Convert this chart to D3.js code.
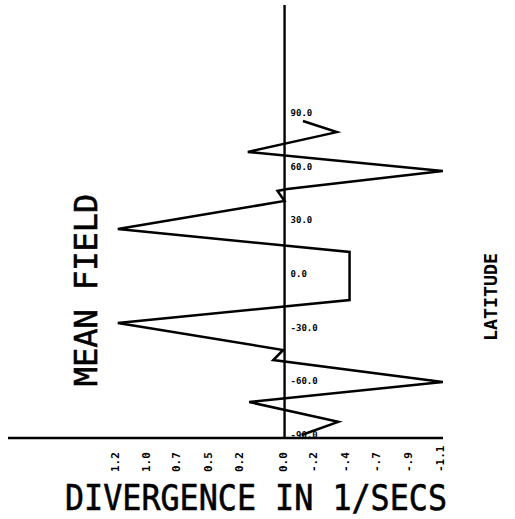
<!DOCTYPE html>
<html><head><meta charset="utf-8">
<script src="https://cdn.jsdelivr.net/npm/d3@7"></script>
<style>body{margin:0;background:#fff}svg{display:block}</style>
</head><body>
<script>
// Data
const latitudes  = [87.2, 81.0, 69.9, 59.3, 49.2, 48.1, 42.5, 26.8, 14.0, -12.9, -25.7, -40.8, -46.4, -58.7, -69.9, -81.0, -88.3];
const divergence = [-0.13, -0.37, 0.26, -1.12, -0.02, 0.05, 0.00, 1.18, -0.46, -0.46, 1.18, 0.01, 0.08, -1.12, 0.25, -0.38, -0.12];
const xTickValues = [1.2, 0.98, 0.77, 0.54, 0.32, 0.01, -0.2, -0.43, -0.65, -0.87, -1.1];
const xTickLabels = ["1.2","1.0","0.7","0.5","0.2","0.0","-.2","-.4","-.7","-.9","-1.1"];
const latTickValues = [90, 60, 30, 0, -30, -60, -90];
const latTickLabels = ["90.0","60.0","30.0","0.0","-30.0","-60.0","-90.0"];

const W = 515, H = 519;
const svg = d3.select("body").append("svg").attr("width", W).attr("height", H);

const x = d3.scaleLinear().domain([1.2, -1.1]).range([115, 440]);
const y = d3.scaleLinear().domain([-90, 90]).range([438, 116]);

const ink = "#000";
const mono = "'DejaVu Sans Mono', monospace";

// horizontal axis
svg.append("line").attr("x1", 8).attr("x2", 443).attr("y1", y(-90)).attr("y2", y(-90))
  .attr("stroke", ink).attr("stroke-width", 2.6);
// vertical axis at zero divergence
svg.append("line").attr("x1", x(0)).attr("x2", x(0)).attr("y1", 5).attr("y2", y(-90))
  .attr("stroke", ink).attr("stroke-width", 2.4);

// curve
const pts = latitudes.map((l, i) => [divergence[i], l]);
svg.append("path").datum(pts)
  .attr("d", d3.line().x(d => x(d[0])).y(d => y(d[1])))
  .attr("fill", "none").attr("stroke", ink).attr("stroke-width", 2.5)
  .attr("stroke-linejoin", "miter");

// latitude labels
svg.append("g").selectAll("text").data(latTickValues).join("text")
  .attr("x", x(0) + 6).attr("y", d => y(d))
  .attr("font-family", mono).attr("font-weight", "bold").attr("font-size", 9)
  .attr("fill", ink)
  .text((d, i) => latTickLabels[i]);

// divergence tick labels (rotated)
svg.append("g").selectAll("text").data(xTickValues).join("text")
  .attr("transform", d => `translate(${x(d) + 4},472) rotate(-90)`)
  .attr("font-family", mono).attr("font-weight", "bold").attr("font-size", 11)
  .attr("fill", ink)
  .text((d, i) => xTickLabels[i]);

// titles
svg.append("text").attr("transform", "translate(97,290) rotate(-90)")
  .attr("text-anchor", "middle").attr("font-family", mono).attr("font-size", 32)
  .attr("fill", ink).attr("stroke", ink).attr("stroke-width", 0.6)
  .text("MEAN FIELD");
svg.append("text").attr("x", 65).attr("y", 510)
  .attr("textLength", 382).attr("lengthAdjust", "spacingAndGlyphs")
  .attr("font-family", mono).attr("font-size", 36)
  .attr("fill", ink).attr("stroke", ink).attr("stroke-width", 0.6)
  .text("DIVERGENCE IN 1/SECS");
svg.append("text").attr("transform", "translate(497,341) rotate(-90)")
  .attr("textLength", 88).attr("lengthAdjust", "spacingAndGlyphs")
  .attr("font-family", mono).attr("font-weight", "bold")
  .attr("font-size", 17).attr("fill", ink).text("LATITUDE");
</script>
</body></html>
